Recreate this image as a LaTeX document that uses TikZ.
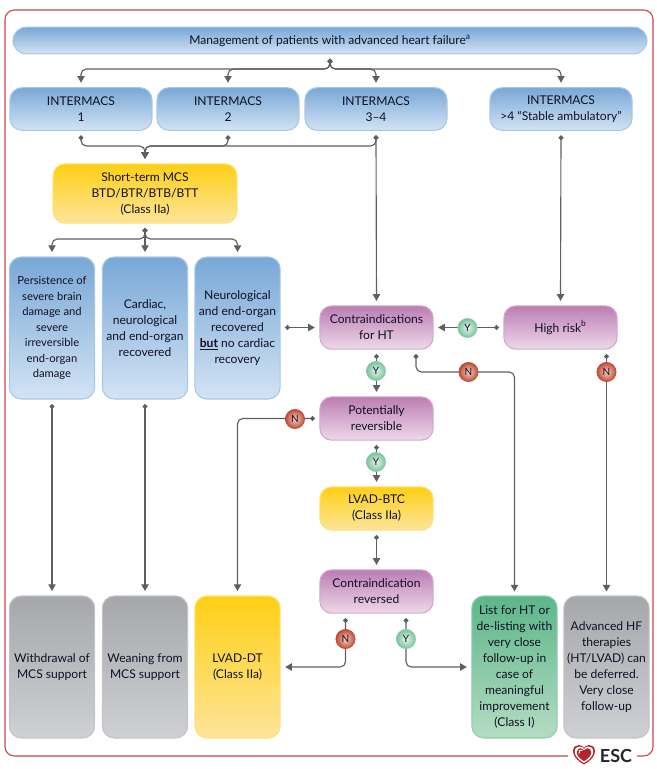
\documentclass[tikz,border=0pt]{standalone}
\usepackage{fontspec}
\setmainfont{Lato}
\usetikzlibrary{arrows.meta,shadings}
\pgfdeclarelayer{bg}
\pgfsetlayers{bg,main}
\definecolor{linegrey}{HTML}{5E5F61}
\definecolor{framered}{HTML}{C8454B}
\definecolor{heartred}{HTML}{B3252B}
\definecolor{inktext}{HTML}{101024}
\definecolor{topblue}{HTML}{78A8D6}
\definecolor{lowblue}{HTML}{D3E3F4}
\definecolor{paleblue}{HTML}{A6C8E8}
\definecolor{topyellow}{HTML}{FFCF14}
\definecolor{lowyellow}{HTML}{FDE59A}
\definecolor{paleyellow}{HTML}{FFE27A}
\definecolor{toppurple}{HTML}{BC7DB3}
\definecolor{lowpurple}{HTML}{EDD9EA}
\definecolor{palepurple}{HTML}{D2A8CC}
\definecolor{topgreen}{HTML}{5CB689}
\definecolor{lowgreen}{HTML}{B4DCC3}
\definecolor{palegreen}{HTML}{8CCFA9}
\definecolor{topgrey}{HTML}{A5A7AA}
\definecolor{lowgrey}{HTML}{CFD0D4}
\definecolor{palegrey}{HTML}{C3C4C7}
\definecolor{nored}{HTML}{BD4A35}
\definecolor{lowred}{HTML}{F4D2C6}
\definecolor{yesgreen}{HTML}{78C29B}
\definecolor{lowyes}{HTML}{E6F4EC}
\newcommand{\heartpath}{(0,10) .. controls (-8,5.5) and (-11,0.5) .. (-11,-3.5) .. controls (-11,-8) and (-7.5,-9.5) .. (-5,-9.5) .. controls (-2.5,-9.5) and (-1,-8) .. (0,-6.5) .. controls (1,-8) and (2.5,-9.5) .. (5,-9.5) .. controls (7.5,-9.5) and (11,-8) .. (11,-3.5) .. controls (11,0.5) and (8,5.5) .. (0,10) -- cycle}
\tikzset{
  box/.style={draw, rounded corners=9pt, align=center, inner sep=0pt, outer sep=3.75pt,
    line width=.8pt, text=inktext, font=\fontsize{9.05}{12}\selectfont},
  blueshade/.style={box, draw=paleblue, top color=topblue, bottom color=lowblue},
  yellowshade/.style={box, draw=paleyellow, top color=topyellow, bottom color=lowyellow},
  purpleshade/.style={box, draw=palepurple, top color=toppurple, bottom color=lowpurple},
  greenshade/.style={box, draw=palegreen, top color=topgreen, bottom color=lowgreen},
  greyshade/.style={box, draw=palegrey, top color=topgrey, bottom color=lowgrey},
  widebox/.style={minimum width=106.5pt, minimum height=32pt},
  midbox/.style={minimum width=85pt, minimum height=32.5pt},
  tallbox/.style={minimum width=64pt, minimum height=106.5pt},
  yesdot/.style={circle, draw=palegreen, inner sep=0pt, minimum size=14.5pt, outer sep=0pt,
    inner color=lowyes, outer color=yesgreen, text=inktext, font=\fontsize{7.5}{8}\selectfont},
  nodot/.style={circle, draw=nored, inner sep=0pt, minimum size=14.5pt, outer sep=0pt,
    inner color=lowred, outer color=nored, text=inktext, font=\fontsize{7.5}{8}\selectfont},
  conn/.style={draw=linegrey, fill=none, line width=.85pt, rounded corners=4pt,
    {Circle[length=3.6pt,fill=linegrey]}-{Triangle[length=5pt,width=5.5pt,fill=linegrey]}},
}
\begin{document}
\begin{tikzpicture}[x=.75pt, y=-.75pt]
        \useasboundingbox (0,0) rectangle (657,769);
        % frame
        \draw [framered, line width=.8pt, rounded corners=7pt] (568,756) -- (5,756) -- (5,10) -- (653,10) -- (653,756) -- (637,756);
        % top row
        \node (mgmt) [blueshade, minimum width=475.5pt, minimum height=20pt, rounded corners=10pt] at (330,40.5) {Management of patients with advanced heart failure\textsuperscript{a}};
        \node (im1) [blueshade, widebox] at (81,109) {INTERMACS\\1};
        \node (im2) [blueshade, widebox] at (228,109) {INTERMACS\\2};
        \node (im3) [blueshade, widebox] at (376,109) {INTERMACS\\3--4};
        \node (im4) [blueshade, widebox] at (561,109) {INTERMACS\\>4 ``Stable ambulatory''};
        \node (mcs) [yellowshade, minimum width=138pt, minimum height=44.5pt] at (145,193.5) {Short-term MCS\\BTD/BTR/BTB/BTT\\(Class IIa)};
        % middle
        \node (persist) [blueshade, tallbox, font=\fontsize{8.4}{11.6}\selectfont] at (52,328) {Persistence of\\severe brain\\damage and\\severe\\irreversible\\end-organ\\damage};
        \node (cardiac) [blueshade, tallbox] at (145,328) {Cardiac,\\neurological\\and end-organ\\recovered};
        \node (neuro) [blueshade, tallbox] at (237.5,328) {Neurological\\and end-organ\\recovered\\\textbf{\underline{but}} no cardiac\\recovery};
        \node (contra) [purpleshade, midbox] at (376.5,327.5) {Contraindications\\for HT};
        \node (risk) [purpleshade, midbox] at (560.5,327.5) {High risk\textsuperscript{b}};
        \node (revers) [purpleshade, midbox] at (376.5,418.5) {Potentially\\reversible};
        \node (btc) [yellowshade, midbox] at (376.5,508.5) {LVAD-BTC\\(Class IIa)};
        \node (undo) [purpleshade, midbox] at (376.5,591.5) {Contraindication\\reversed};
        % bottom row
        \node (stop) [greyshade, tallbox] at (52,667) {Withdrawal of\\MCS support};
        \node (wean) [greyshade, tallbox] at (145,667) {Weaning from\\MCS support};
        \node (dt) [yellowshade, tallbox] at (237.5,667) {LVAD-DT\\(Class IIa)};
        \node (list) [greenshade, tallbox] at (514.5,667) {List for HT or\\de-listing with\\very close\\follow-up in\\case of\\meaningful\\improvement\\(Class I)};
        \node (defer) [greyshade, tallbox] at (606.5,667) {Advanced HF\\therapies\\(HT/LVAD) can\\be deferred.\\Very close\\follow-up};
        % yes and no marks
        \node (y1) [yesdot] at (467.5,328) {Y};
        \node (y2) [yesdot] at (376,371) {Y};
        \node (y3) [yesdot] at (376,462) {Y};
        \node (y4) [yesdot] at (406,639) {Y};
        \node (n1) [nodot] at (468.5,372) {N};
        \node (n2) [nodot] at (606.5,372) {N};
        \node (n3) [nodot] at (295,419) {N};
        \node (n4) [nodot] at (345.5,639) {N};
        % bends and free ends
        \coordinate (topbus) at (330,69);
        \coordinate (lowbus) at (145,146);
        \coordinate (mcsbus) at (145,239);
        \coordinate (contraout) at (416,354);
        \coordinate (listbend) at (514.5,372);
        \coordinate (listin) at (514.5,591.5);
        \coordinate (deferin) at (606.5,591.5);
        \coordinate (riskout) at (606.5,354);
        \coordinate (undoleft) at (345.5,618);
        \coordinate (undoright) at (406,618);
        \begin{pgfonlayer}{bg}
                \draw [conn] (mgmt.south) -- (topbus) -| (im1.north);
                \draw [conn] (mgmt.south) -- (topbus) -| (im2.north);
                \draw [conn] (mgmt.south) -- (topbus) -| (im3.north);
                \draw [conn] (mgmt.south) -- (topbus) -| (im4.north);
                \draw [conn] (im1.south) |- (lowbus) -- (mcs.north);
                \draw [conn] (im2.south) |- (lowbus) -- (mcs.north);
                \draw [conn] (im3.south) |- (lowbus) -- (mcs.north);
                \draw [conn] (im3.south) -- (contra.north);
                \draw [conn] (im4.south) -- (risk.north);
                \draw [conn] (mcs.south) -- (mcsbus) -| (persist.north);
                \draw [conn] (mcs.south) -- (cardiac.north);
                \draw [conn] (mcs.south) -- (mcsbus) -| (neuro.north);
                \draw [conn] (persist.south) -- (stop.north);
                \draw [conn] (cardiac.south) -- (wean.north);
                \draw [conn] (neuro.east |- contra.east) -- (contra.west);
                \draw [conn] (risk.west) -- (contra.east);
                \draw [conn] (contra.south) -- (revers.north);
                \draw [conn] (contraout) |- (listbend) -- (listin);
                \draw [conn] (riskout) -- (deferin);
                \draw [conn] (revers.south) -- (btc.north);
                \draw [conn] (btc.south) -- (undo.north);
                \draw [conn] (revers.west) -| (dt.north);
                \draw [conn] (undoleft) |- (dt.east);
                \draw [conn] (undoright) |- (list.west);
        \end{pgfonlayer}
        % logo
        \begin{scope}[shift={(584,754.5)}]
                \fill [heartred] \heartpath;
                \fill [white, scale=.84] \heartpath;
                \fill [heartred, scale=.66] \heartpath;
                \draw [white, line width=.7pt, line cap=round] (-5,-1) .. controls (-5.5,-3.5) and (-4,-5) .. (-1.5,-4.5);
        \end{scope}
        \node (logotext) [inner sep=0pt, font=\fontsize{13.5}{14}\selectfont\bfseries, text=black!85] at (616,755.5) {ESC};
\end{tikzpicture}
\end{document}
